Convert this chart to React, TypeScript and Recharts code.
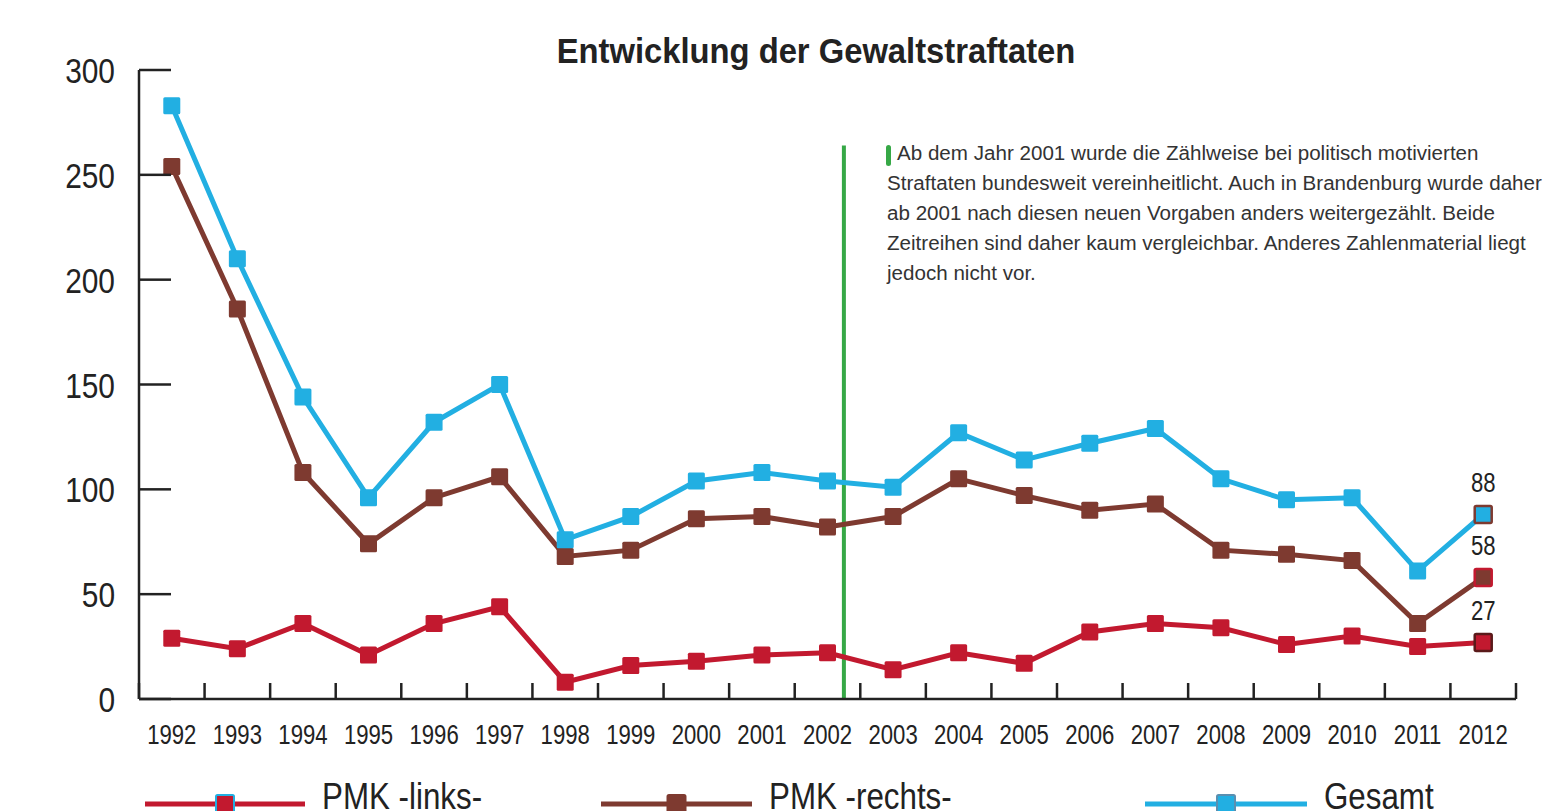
import React from 'react';
import { LineChart, Line, XAxis, YAxis, ReferenceLine } from 'recharts';

const years = ['1992','1993','1994','1995','1996','1997','1998','1999','2000','2001','2002','2003','2004','2005','2006','2007','2008','2009','2010','2011','2012'];
const links = [29, 24, 36, 21, 36, 44, 8, 16, 18, 21, 22, 14, 22, 17, 32, 36, 34, 26, 30, 25, 27];
const rechts = [254, 186, 108, 74, 96, 106, 68, 71, 86, 87, 82, 87, 105, 97, 90, 93, 71, 69, 66, 36, 58];
const gesamt = [283, 210, 144, 96, 132, 150, 76, 87, 104, 108, 104, 101, 127, 114, 122, 129, 105, 95, 96, 61, 88];
const yTicks = [0, 50, 100, 150, 200, 250, 300];
const noteLines = [
  'Ab dem Jahr 2001 wurde die Zählweise bei politisch motivierten',
  'Straftaten bundesweit vereinheitlicht. Auch in Brandenburg wurde daher',
  'ab 2001 nach diesen neuen Vorgaben anders weitergezählt. Beide',
  'Zeitreihen sind daher kaum vergleichbar. Anderes Zahlenmaterial liegt',
  'jedoch nicht vor.',
];
const breakX = 10.25; // position of the methodology change marker (between 2002 and 2003)
const breakTop = 264;

const F = "'Liberation Sans', Arial, sans-serif";
const RED = '#c2192f';
const BROWN = '#7e3a30';
const BLUE = '#22afe2';
const AXIS = '#222';

const series = [
  { key: 'links', name: 'PMK -links-', color: RED, lastStroke: '#5a1a1a', legendStroke: BLUE },
  { key: 'rechts', name: 'PMK -rechts-', color: BROWN, lastStroke: RED, legendStroke: BROWN },
  { key: 'gesamt', name: 'Gesamt', color: BLUE, lastStroke: BROWN, legendStroke: '#5a8fb0' },
];

const data = years.map((y, i) => ({ x: i, year: y, links: links[i], rechts: rechts[i], gesamt: gesamt[i] }));
const last = years.length - 1;
const xTicks: number[] = [];
for (let i = -1; i <= last; i++) { xTicks.push(i + 0.5); if (i + 1 <= last) xTicks.push(i + 1); }

// Narrow text: Liberation Sans compressed horizontally
const NT = ({ x, y, k, size, anchor, weight, fill, children }: any) => (
  <text transform={`translate(${x} ${y}) scale(${k} 1)`} x={0} y={0} textAnchor={anchor || 'start'}
    fontFamily={F} fontSize={size} fontWeight={weight || 'normal'} fill={fill || '#222'}>{children}</text>
);

const XTick = (props: any) => {
  const { x, y, payload } = props;
  const v = payload.value;
  if (Number.isInteger(v)) {
    return <NT x={x} y={y + 45} k={0.82} size={27} anchor="middle">{years[v]}</NT>;
  }
  return <line x1={x} x2={x} y1={y} y2={y - 16} stroke={AXIS} strokeWidth={2.5} />;
};

const YTick = (props: any) => {
  const { x, y, payload } = props;
  return (
    <g>
      <line x1={x} x2={x + 32} y1={y} y2={y} stroke={AXIS} strokeWidth={2.5} />
      <NT x={x - 24} y={y + 13} k={0.83} size={36} anchor="end">{payload.value}</NT>
    </g>
  );
};

const makeDot = (color: string, lastStroke: string) => (props: any) => {
  const { cx, cy, index } = props;
  const s = 17;
  const isLast = index === last;
  return (
    <rect key={index} x={cx - s / 2} y={cy - s / 2} width={s} height={s} rx={1.5}
      fill={color} stroke={isLast ? lastStroke : color} strokeWidth={isLast ? 2.5 : 0} />
  );
};

const makeLabel = () => (props: any) => {
  const { x, y, index, value } = props;
  if (index !== last) return null;
  return <NT x={x} y={y - 22} k={0.82} size={27} anchor="middle">{value}</NT>;
};

const legendX = [145, 601, 1145];
const legendLen = [160, 151, 162];

export default function App() {
  return (
    <div style={{ position: 'absolute', left: 0, top: 0, width: 1558, height: 811, background: '#fff', overflow: 'hidden' }}>
      <LineChart width={1558} height={811} data={data} margin={{ top: 70, right: 42, left: 79, bottom: 111 }}>
        <XAxis type="number" dataKey="x" domain={[-0.5, last + 0.5]} ticks={xTicks} interval={0}
          allowDecimals tickSize={0} tickMargin={0} tickLine={false} tick={<XTick />} height={1}
          axisLine={{ stroke: AXIS, strokeWidth: 2.5 }} />
        <YAxis type="number" domain={[0, 300]} ticks={yTicks} interval={0} width={60} tickSize={0} tickMargin={0}
          tickLine={false} tick={<YTick />} axisLine={{ stroke: AXIS, strokeWidth: 2.5 }} />
        <ReferenceLine segment={[{ x: breakX, y: 0 }, { x: breakX, y: breakTop }]} stroke="#36a846" strokeWidth={4} ifOverflow="visible" />
        {series.map(s => (
          <Line key={s.key} type="linear" dataKey={s.key} name={s.name} stroke={s.color} strokeWidth={5}
            dot={makeDot(s.color, s.lastStroke)} activeDot={false} isAnimationActive={false}
            label={makeLabel()} />
        ))}
      </LineChart>
      <svg width={1558} height={811} style={{ position: 'absolute', left: 0, top: 0, pointerEvents: 'none' }}>
        <NT x={816} y={63} k={0.91} size={36} anchor="middle" weight="bold">Entwicklung der Gewaltstraftaten</NT>
        <rect x={886} y={145} width={5} height={21} rx={2.5} fill="#36a846" />
        {noteLines.map((t, i) => (
          <NT key={i} x={i === 0 ? 897 : 887} y={160 + i * 30} k={1.03} size={20} fill="#333">{t}</NT>
        ))}
        {series.map((s, i) => (
          <g key={s.key}>
            <line x1={legendX[i]} x2={legendX[i] + legendLen[i]} y1={804} y2={804} stroke={s.color} strokeWidth={5} />
            <rect x={legendX[i] + legendLen[i] / 2 - 9} y={795} width={18} height={18} rx={1.5} fill={s.color} stroke={s.legendStroke} strokeWidth={2} />
            <NT x={legendX[i] + legendLen[i] + 17} y={809} k={0.87} size={36}>{s.name}</NT>
          </g>
        ))}
      </svg>
    </div>
  );
}
